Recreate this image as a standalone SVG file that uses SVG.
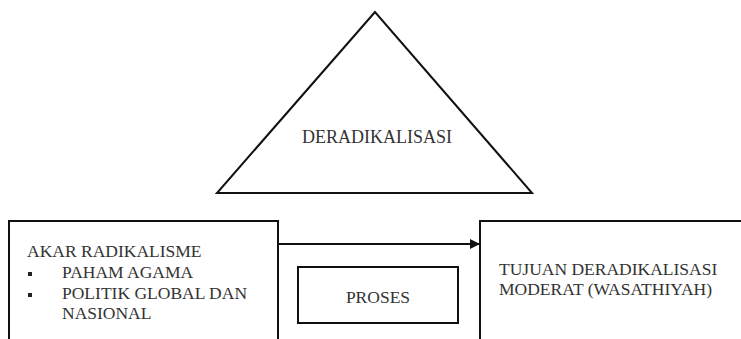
<svg xmlns="http://www.w3.org/2000/svg" width="741" height="339" viewBox="0 0 741 339">
<style>
.shape{fill:none;stroke:#111;stroke-width:2}
text{font-family:'Liberation Serif','Times New Roman','DejaVu Serif',serif;font-size:17.5px;fill:#333}
</style>
<defs>
<marker id="ah" markerWidth="10" markerHeight="10" refX="9" refY="5" orient="auto" markerUnits="userSpaceOnUse">
<path d="M0,0 L10,5 L0,10 Z" fill="#111"/>
</marker>
</defs>
<rect width="741" height="339" fill="#fff"/>
<g id="triangle">
<polygon class="shape" points="375,12 217,193 532,193"/>
<text x="377" y="143" text-anchor="middle" style="font-size:18px">DERADIKALISASI</text>
</g>
<g id="akar">
<path class="shape" d="M9,339 V221 H278 V339"/>
<text x="27" y="257">AKAR RADIKALISME</text>
<rect x="28" y="272" width="4" height="4" fill="#222"/>
<text x="62" y="278">PAHAM AGAMA</text>
<rect x="28" y="293" width="4" height="4" fill="#222"/>
<text x="62" y="299">POLITIK GLOBAL DAN</text>
<text x="62" y="319">NASIONAL</text>
</g>
<g id="proses">
<rect class="shape" x="298" y="267" width="160" height="56"/>
<text x="378" y="303" text-anchor="middle">PROSES</text>
</g>
<g id="tujuan">
<path class="shape" d="M480,339 V221 H742"/>
<text x="499" y="275">TUJUAN DERADIKALISASI</text>
<text x="499" y="295">MODERAT (WASATHIYAH)</text>
</g>
<g id="connectors">
<line class="shape" x1="278" y1="244" x2="479" y2="244" marker-end="url(#ah)"/>
</g>
</svg>
